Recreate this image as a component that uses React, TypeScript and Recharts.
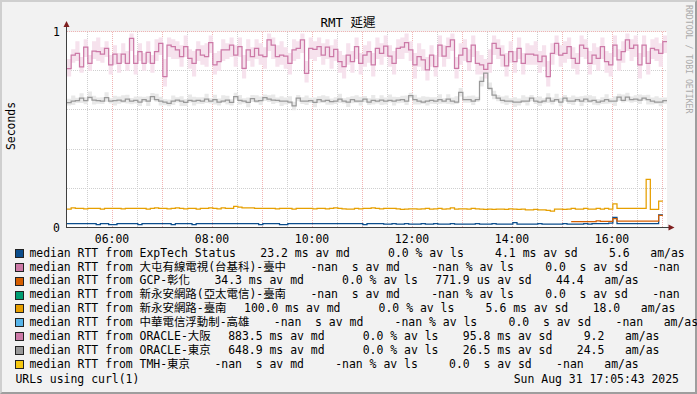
import React from "react";
import { ComposedChart, Line, Area, XAxis, YAxis, CartesianGrid } from "recharts";

const MONO = "'DejaVu Sans Mono', 'Noto Sans CJK TC', monospace";
const FS = 11.45;

// time axis in minutes since midnight (05:06 .. 17:06), 5 minute steps
const START_MIN = 306;
const END_MIN = 1026;
const STEP_MIN = 5;
const TIME_LABEL_TICKS = [360, 480, 600, 720, 840, 960];
const HOUR_TICKS = [360, 420, 480, 540, 600, 660, 720, 780, 840, 900, 960, 1020];
const HALF_HOUR_TICKS = [330, 390, 450, 510, 570, 630, 690, 750, 810, 870, 930, 990];
const Y_LABEL_TICKS = [0, 1];
const Y_MINOR_TICKS = [0.2, 0.4, 0.6, 0.8];
const Y_MAJOR_TICKS = [1];

// ORACLE-大阪 median (seconds)
const OSAKA = [
  0.81, 0.88, 0.889, 0.82, 0.92, 0.838, 0.9, 0.897, 0.885, 0.914, 0.83, 0.885, 0.838, 0.885, 0.838, 0.965,
  0.838, 0.897, 0.838, 0.894, 0.838, 0.897, 0.94, 0.77, 0.93, 0.923, 0.906, 0.872, 0.923, 0.863, 0.838, 0.906,
  0.88, 0.872, 0.943, 0.83, 0.846, 0.906, 0.906, 0.93, 0.88, 0.923, 0.812, 0.906, 0.872, 0.914, 0.88, 0.872,
  0.957, 0.93, 0.872, 0.88, 0.875, 0.838, 0.906, 0.914, 0.957, 0.786, 0.914, 0.909, 0.923, 0.88, 0.92, 0.872,
  0.909, 0.846, 0.821, 0.88, 0.846, 0.923, 0.838, 0.88, 0.897, 0.83, 0.914, 0.889, 0.926, 0.875, 0.838, 0.914,
  0.92, 0.943, 0.906, 0.83, 0.872, 0.855, 0.804, 0.88, 0.821, 0.93, 0.875, 0.923, 0.957, 0.812, 0.88, 0.914,
  0.846, 0.93, 0.838, 0.83, 0.807, 0.838, 0.94, 0.914, 0.88, 0.824, 0.897, 0.846, 0.914, 0.838, 0.885, 0.885,
  0.88, 0.846, 0.875, 0.77, 0.889, 0.94, 0.88, 0.889, 0.923, 0.863, 0.838, 0.93, 0.914, 0.838, 0.88, 0.863,
  0.923, 0.846, 0.83, 0.93, 0.855, 0.897, 0.957, 0.914, 0.93, 0.83, 0.93, 0.838, 0.914, 0.906, 0.889, 0.948,
];
const OSAKA_HI = [
  0.86, 0.91, 0.95, 0.87, 0.96, 0.88, 0.95, 0.97, 0.92, 0.95, 0.88, 0.93, 0.89, 0.94, 0.9, 0.99,
  0.88, 0.94, 0.89, 0.95, 0.88, 0.96, 0.97, 0.86, 0.97, 0.96, 0.95, 0.93, 0.98, 0.91, 0.9, 0.95,
  0.93, 0.94, 0.98, 0.89, 0.9, 0.96, 0.94, 0.97, 0.93, 0.97, 0.88, 0.96, 0.92, 0.96, 0.94, 0.92,
  0.99, 0.97, 0.93, 0.95, 0.92, 0.89, 0.96, 0.95, 0.99, 0.85, 0.97, 0.95, 0.97, 0.94, 0.96, 0.93,
  0.96, 0.9, 0.88, 0.94, 0.9, 0.97, 0.89, 0.93, 0.95, 0.89, 0.97, 0.94, 0.98, 0.93, 0.9, 0.96,
  0.97, 0.99, 0.95, 0.89, 0.94, 0.91, 0.87, 0.93, 0.88, 0.98, 0.93, 0.97, 0.99, 0.87, 0.94, 0.96,
  0.91, 0.98, 0.9, 0.88, 0.86, 0.91, 0.98, 0.96, 0.93, 0.89, 0.95, 0.9, 0.97, 0.89, 0.94, 0.93,
  0.95, 0.9, 0.93, 0.85, 0.94, 0.98, 0.93, 0.95, 0.97, 0.92, 0.89, 0.98, 0.96, 0.9, 0.94, 0.92,
  0.97, 0.9, 0.89, 0.98, 0.91, 0.95, 0.99, 0.96, 0.98, 0.89, 0.98, 0.9, 0.96, 0.97, 0.94, 0.98,
];
const OSAKA_LO = [
  0.77, 0.84, 0.85, 0.79, 0.87, 0.8, 0.86, 0.85, 0.84, 0.87, 0.78, 0.83, 0.79, 0.84, 0.8, 0.9,
  0.78, 0.85, 0.8, 0.84, 0.79, 0.85, 0.88, 0.72, 0.87, 0.86, 0.86, 0.82, 0.87, 0.81, 0.77, 0.85,
  0.83, 0.82, 0.89, 0.78, 0.8, 0.85, 0.86, 0.87, 0.82, 0.87, 0.76, 0.85, 0.82, 0.86, 0.83, 0.81,
  0.9, 0.86, 0.82, 0.83, 0.81, 0.78, 0.85, 0.86, 0.89, 0.74, 0.86, 0.85, 0.87, 0.83, 0.86, 0.81,
  0.85, 0.79, 0.76, 0.83, 0.79, 0.86, 0.78, 0.82, 0.84, 0.77, 0.86, 0.83, 0.87, 0.82, 0.78, 0.86,
  0.86, 0.89, 0.85, 0.76, 0.82, 0.8, 0.75, 0.82, 0.77, 0.87, 0.82, 0.86, 0.9, 0.76, 0.83, 0.85,
  0.8, 0.87, 0.78, 0.78, 0.76, 0.79, 0.88, 0.86, 0.82, 0.77, 0.84, 0.79, 0.86, 0.78, 0.83, 0.83,
  0.83, 0.79, 0.82, 0.72, 0.83, 0.88, 0.82, 0.84, 0.86, 0.81, 0.78, 0.87, 0.86, 0.78, 0.83, 0.8,
  0.86, 0.79, 0.77, 0.87, 0.8, 0.84, 0.9, 0.85, 0.87, 0.76, 0.87, 0.78, 0.86, 0.85, 0.82, 0.89,
];

// ORACLE-東京 median (seconds)
const TOKYO = [
  0.637, 0.645, 0.647, 0.66, 0.647, 0.664, 0.65, 0.647, 0.645, 0.662, 0.645, 0.647, 0.65, 0.645, 0.655, 0.645,
  0.648, 0.64, 0.652, 0.645, 0.668, 0.652, 0.645, 0.64, 0.633, 0.645, 0.65, 0.645, 0.638, 0.648, 0.645, 0.648,
  0.645, 0.655, 0.645, 0.652, 0.64, 0.645, 0.65, 0.638, 0.668, 0.648, 0.645, 0.638, 0.658, 0.645, 0.647, 0.662,
  0.655, 0.65, 0.648, 0.645, 0.645, 0.64, 0.62, 0.66, 0.645, 0.645, 0.647, 0.638, 0.652, 0.645, 0.648, 0.642,
  0.645, 0.655, 0.645, 0.64, 0.652, 0.645, 0.645, 0.655, 0.64, 0.648, 0.645, 0.65, 0.645, 0.648, 0.645, 0.65,
  0.652, 0.645, 0.673, 0.652, 0.645, 0.64, 0.645, 0.648, 0.645, 0.652, 0.645, 0.655, 0.645, 0.64, 0.69, 0.652,
  0.652, 0.645, 0.652, 0.745, 0.787, 0.71, 0.676, 0.66, 0.648, 0.645, 0.645, 0.64, 0.64, 0.645, 0.645, 0.66,
  0.645, 0.64, 0.645, 0.66, 0.645, 0.652, 0.64, 0.66, 0.645, 0.645, 0.652, 0.645, 0.655, 0.645, 0.648, 0.64,
  0.645, 0.652, 0.645, 0.645, 0.665, 0.648, 0.665, 0.652, 0.655, 0.65, 0.66, 0.652, 0.645, 0.64, 0.64, 0.647,
];
const TOKYO_HI = [
  0.657, 0.673, 0.662, 0.685, 0.665, 0.694, 0.672, 0.663, 0.665, 0.69, 0.66, 0.672, 0.668, 0.675, 0.677, 0.661,
  0.668, 0.668, 0.667, 0.67, 0.686, 0.682, 0.667, 0.656, 0.653, 0.673, 0.665, 0.67, 0.656, 0.678, 0.667, 0.664,
  0.665, 0.683, 0.66, 0.677, 0.658, 0.675, 0.672, 0.654, 0.688, 0.676, 0.66, 0.663, 0.676, 0.675, 0.669, 0.678,
  0.675, 0.678, 0.663, 0.67, 0.663, 0.67, 0.642, 0.676, 0.665, 0.673, 0.662, 0.663, 0.67, 0.675, 0.67, 0.658,
  0.665, 0.683, 0.66, 0.665, 0.67, 0.675, 0.667, 0.671, 0.66, 0.676, 0.66, 0.675, 0.663, 0.678, 0.667, 0.666,
  0.672, 0.673, 0.688, 0.677, 0.663, 0.67, 0.667, 0.664, 0.665, 0.68, 0.66, 0.68, 0.663, 0.67, 0.712, 0.668,
  0.672, 0.673, 0.667, 0.77, 0.805, 0.74, 0.698, 0.676, 0.668, 0.673, 0.66, 0.665, 0.658, 0.675, 0.667, 0.676,
  0.665, 0.668, 0.66, 0.685, 0.663, 0.682, 0.662, 0.676, 0.665, 0.673, 0.667, 0.67, 0.673, 0.675, 0.67, 0.656,
  0.665, 0.68, 0.66, 0.67, 0.683, 0.678, 0.687, 0.668, 0.675, 0.678, 0.675, 0.677, 0.663, 0.67, 0.662, 0.663,
];
const TOKYO_LO = [
  0.622, 0.625, 0.635, 0.635, 0.629, 0.654, 0.628, 0.631, 0.63, 0.642, 0.633, 0.622, 0.632, 0.635, 0.633, 0.629,
  0.633, 0.62, 0.64, 0.62, 0.65, 0.642, 0.623, 0.624, 0.618, 0.625, 0.638, 0.62, 0.62, 0.638, 0.623, 0.632,
  0.63, 0.635, 0.633, 0.627, 0.622, 0.635, 0.628, 0.622, 0.653, 0.628, 0.633, 0.613, 0.64, 0.635, 0.625, 0.646,
  0.64, 0.63, 0.636, 0.62, 0.627, 0.63, 0.598, 0.644, 0.63, 0.625, 0.635, 0.613, 0.634, 0.635, 0.626, 0.626,
  0.63, 0.635, 0.633, 0.615, 0.634, 0.635, 0.623, 0.639, 0.625, 0.628, 0.633, 0.625, 0.627, 0.638, 0.623, 0.634,
  0.637, 0.625, 0.661, 0.627, 0.627, 0.63, 0.623, 0.632, 0.63, 0.632, 0.633, 0.63, 0.627, 0.63, 0.668, 0.636,
  0.637, 0.625, 0.64, 0.72, 0.769, 0.7, 0.654, 0.644, 0.633, 0.625, 0.633, 0.615, 0.622, 0.635, 0.623, 0.644,
  0.63, 0.62, 0.633, 0.635, 0.627, 0.642, 0.618, 0.644, 0.63, 0.625, 0.64, 0.62, 0.637, 0.635, 0.626, 0.624,
  0.63, 0.632, 0.633, 0.62, 0.647, 0.638, 0.643, 0.636, 0.64, 0.63, 0.648, 0.627, 0.627, 0.63, 0.618, 0.631,
];

// 新永安網路-臺南 median (seconds)
const YONGAN = [
  0.094, 0.1, 0.097, 0.097, 0.095, 0.097, 0.097, 0.097, 0.094, 0.097, 0.097, 0.097, 0.097, 0.095, 0.097, 0.097,
  0.097, 0.097, 0.097, 0.094, 0.097, 0.1, 0.097, 0.097, 0.095, 0.097, 0.1, 0.097, 0.095, 0.097, 0.097, 0.094,
  0.097, 0.097, 0.1, 0.097, 0.095, 0.1, 0.097, 0.097, 0.108, 0.104, 0.1, 0.1, 0.1, 0.097, 0.097, 0.097,
  0.097, 0.097, 0.095, 0.097, 0.097, 0.097, 0.094, 0.097, 0.097, 0.097, 0.097, 0.095, 0.097, 0.097, 0.095, 0.097,
  0.1, 0.097, 0.095, 0.094, 0.094, 0.097, 0.095, 0.097, 0.097, 0.1, 0.097, 0.095, 0.097, 0.097, 0.097, 0.095,
  0.092, 0.094, 0.095, 0.095, 0.094, 0.095, 0.097, 0.094, 0.095, 0.097, 0.094, 0.095, 0.1, 0.094, 0.095, 0.095,
  0.094, 0.097, 0.095, 0.094, 0.092, 0.094, 0.092, 0.094, 0.094, 0.092, 0.095, 0.094, 0.092, 0.094, 0.09, 0.09,
  0.092, 0.09, 0.09, 0.088, 0.084, 0.094, 0.094, 0.092, 0.094, 0.097, 0.094, 0.094, 0.097, 0.094, 0.094, 0.097,
  0.094, 0.097, 0.094, 0.12, 0.098, 0.098, 0.098, 0.098, 0.098, 0.098, 0.098, 0.245, 0.092, 0.092, 0.135,
];

// ExpTech Status median (seconds)
const EXPTECH = [
  0.02, 0.02, 0.02, 0.02, 0.02, 0.02, 0.02, 0.015, 0.02, 0.02, 0.015, 0.015, 0.02, 0.02, 0.02, 0.02,
  0.02, 0.015, 0.02, 0.02, 0.02, 0.02, 0.02, 0.02, 0.02, 0.015, 0.02, 0.02, 0.02, 0.02, 0.015, 0.02,
  0.02, 0.02, 0.02, 0.02, 0.02, 0.02, 0.02, 0.02, 0.02, 0.02, 0.02, 0.02, 0.02, 0.02, 0.015, 0.02,
  0.02, 0.02, 0.02, 0.015, 0.015, 0.02, 0.02, 0.02, 0.02, 0.02, 0.02, 0.02, 0.02, 0.02, 0.02, 0.02,
  0.02, 0.02, 0.02, 0.02, 0.02, 0.02, 0.02, 0.015, 0.02, 0.02, 0.02, 0.02, 0.017, 0.017, 0.02, 0.017,
  0.017, 0.02, 0.017, 0.017, 0.017, 0.02, 0.017, 0.017, 0.02, 0.017, 0.017, 0.017, 0.02, 0.017, 0.017, 0.017,
  0.017, 0.017, 0.02, 0.017, 0.017, 0.017, 0.02, 0.017, 0.017, 0.017, 0.017, 0.025, 0.017, 0.017, 0.017, 0.017,
  0.017, 0.02, 0.017, 0.017, 0.017, 0.017, 0.017, 0.02, 0.017, 0.017, 0.017, 0.017, 0.02, 0.017, 0.02, 0.02,
  0.02, 0.02, 0.022, 0.052, 0.02, 0.02, 0.02, 0.02, 0.02, 0.02, 0.02, 0.02, 0.02, 0.02, 0.064,
];

// GCP-彰化 median (seconds), starting at step 121 (≈15:11)
const GCP_FIRST_STEP = 121;
const GCP = [
  0.03, 0.03, 0.03, 0.03, 0.03, 0.03, 0.034, 0.031, 0.031, 0.031, 0.045, 0.032, 0.032, 0.032, 0.033, 0.032,
  0.033, 0.032, 0.032, 0.033, 0.032, 0.062,
];

const COLORS = {
  exptech: "#0b4d8c",
  tunhsiang: "#cc79a7",
  gcp: "#d55e00",
  yonganApt: "#009e73",
  yongan: "#e69f00",
  cht: "#56b4e9",
  osaka: "#cc79a7",
  tokyo: "#999999",
  tmh: "#f5c710",
};

const NAN_MD = " -nan  s av md ";
const NAN_LS = " -nan % av ls";
const NAN_SD = "  0.0  s av sd";
const NAN_AM = " -nan   am/as";
const NAN_AM_EDGE = " -nan";

const LEGEND = [
  { color: COLORS.exptech, label: "median RTT from ExpTech Status", md: " 23.2 ms av md ", ls: "  0.0 % av ls", sd: "  4.1 ms av sd", am: "  5.6   am/as" },
  { color: COLORS.tunhsiang, label: "median RTT from 大屯有線電視(台基科)-臺中", md: NAN_MD, ls: NAN_LS, sd: NAN_SD, am: NAN_AM_EDGE },
  { color: COLORS.gcp, label: "median RTT from GCP-彰化", md: " 34.3 ms av md ", ls: "  0.0 % av ls", sd: "771.9 us av sd", am: " 44.4   am/as" },
  { color: COLORS.yonganApt, label: "median RTT from 新永安網路(亞太電信)-臺南", md: NAN_MD, ls: NAN_LS, sd: NAN_SD, am: NAN_AM_EDGE },
  { color: COLORS.yongan, label: "median RTT from 新永安網路-臺南", md: "100.0 ms av md ", ls: "  0.0 % av ls", sd: "  5.6 ms av sd", am: " 18.0   am/as" },
  { color: COLORS.cht, label: "median RTT from 中華電信浮動制-高雄", md: NAN_MD, ls: NAN_LS, sd: NAN_SD, am: NAN_AM },
  { color: COLORS.osaka, label: "median RTT from ORACLE-大阪", md: "883.5 ms av md ", ls: "  0.0 % av ls", sd: " 95.8 ms av sd", am: "  9.2   am/as" },
  { color: COLORS.tokyo, label: "median RTT from ORACLE-東京", md: "648.9 ms av md ", ls: "  0.0 % av ls", sd: " 26.5 ms av sd", am: " 24.5   am/as" },
  { color: COLORS.tmh, label: "median RTT from TMH-東京", md: NAN_MD, ls: NAN_LS, sd: NAN_SD, am: NAN_AM },
];

const TITLE = "RMT 延遲";
const Y_LABEL = "Seconds";
const WATERMARK = "RRDTOOL / TOBI OETIKER";
const FOOT_LEFT = "URLs using curl(1)";
const FOOT_RIGHT = "Sun Aug 31 17:05:43 2025";

const N_STEPS = 144;

function valueAt(series: number[], i: number, first = 0): number | null {
  const j = i - first;
  if (j < 0) return null;
  if (j < series.length) return series[j];
  if (j === series.length) return series[series.length - 1];
  return null;
}
function rangeAt(lo: number[], hi: number[], i: number): [number, number] | null {
  const a = valueAt(lo, i);
  const b = valueAt(hi, i);
  return a == null || b == null ? null : [a, b];
}

const DATA = Array.from({ length: N_STEPS + 1 }, (_, i) => ({
  t: START_MIN + i * STEP_MIN,
  osaka: valueAt(OSAKA, i),
  osakaSmoke: rangeAt(OSAKA_LO, OSAKA_HI, i),
  tokyo: valueAt(TOKYO, i),
  tokyoSmoke: rangeAt(TOKYO_LO, TOKYO_HI, i),
  yongan: valueAt(YONGAN, i),
  exptech: valueAt(EXPTECH, i),
  gcp: valueAt(GCP, i, GCP_FIRST_STEP),
}));

const W = 697;
const H = 394;
const PLOT_L = 67;
const PLOT_R = 667;
const PLOT_T = 31.5;
const PLOT_B = 227.5;
const GAP = 17.5;
const ROW0_BASE = 257.6;
const ROW_H = 13.85;

const fmtTime = (v: number) => {
  const h = Math.floor(v / 60);
  const m = v % 60;
  return `${String(h).padStart(2, "0")}:${String(m).padStart(2, "0")}`;
};

const tickStyle = { fontFamily: MONO, fontSize: FS, fill: "#000" };
const LINE_W = 1.25;

export default function App() {
  return (
    <div style={{ position: "relative", width: W, height: H, background: "#f2f2f2", overflow: "hidden", fontFamily: MONO }}>
      <style>{`body{margin:0}`}</style>
      <div style={{ position: "absolute", left: 0, top: 0, width: W, height: H, boxSizing: "border-box", borderTop: "2px solid #cfcfcf", borderLeft: "2px solid #cfcfcf", borderRight: "2px solid #9e9e9e", borderBottom: "2px solid #9e9e9e" }} />
      <div style={{ position: "absolute", left: PLOT_L, top: PLOT_T, width: PLOT_R - PLOT_L, height: PLOT_B - PLOT_T, background: "#fff" }} />
      <div style={{ position: "absolute", left: 0, top: 0 }}>
        <ComposedChart width={W} height={H} data={DATA} margin={{ top: PLOT_T, right: W - PLOT_R, bottom: H - PLOT_B - 30, left: 0 }}>
          <CartesianGrid verticalValues={HALF_HOUR_TICKS} horizontalValues={Y_MINOR_TICKS} stroke="#cfcfcf" strokeDasharray="1 1" shapeRendering="crispEdges" />
          <CartesianGrid verticalValues={HOUR_TICKS} horizontalValues={Y_MAJOR_TICKS} stroke="#f1b3b3" strokeDasharray="1 1" shapeRendering="crispEdges" />
          <XAxis dataKey="t" type="number" domain={[START_MIN, END_MIN]} ticks={TIME_LABEL_TICKS} interval={0} tickFormatter={fmtTime} height={30} axisLine={false} tickLine={false} tickSize={0} tickMargin={7} tick={tickStyle} />
          <YAxis type="number" domain={[0, 1]} ticks={Y_LABEL_TICKS} interval={0} width={PLOT_L} axisLine={false} tickLine={false} tickSize={0} tickMargin={7} tick={tickStyle} />
          <Area dataKey="tokyoSmoke" type="stepAfter" stroke="none" fill="#e9e9e9" fillOpacity={1} isAnimationActive={false} connectNulls={false} />
          <Area dataKey="osakaSmoke" type="stepAfter" stroke="none" fill="#f6e2ed" fillOpacity={1} isAnimationActive={false} connectNulls={false} />
          <Line dataKey="exptech" type="stepAfter" stroke={COLORS.exptech} strokeWidth={LINE_W} dot={false} isAnimationActive={false} />
          <Line dataKey="gcp" type="stepAfter" stroke={COLORS.gcp} strokeWidth={LINE_W} dot={false} isAnimationActive={false} />
          <Line dataKey="yongan" type="stepAfter" stroke={COLORS.yongan} strokeWidth={LINE_W} dot={false} isAnimationActive={false} />
          <Line dataKey="osaka" type="stepAfter" stroke={COLORS.osaka} strokeWidth={LINE_W} dot={false} isAnimationActive={false} />
          <Line dataKey="tokyo" type="stepAfter" stroke={COLORS.tokyo} strokeWidth={LINE_W} dot={false} isAnimationActive={false} />
        </ComposedChart>
      </div>
      <svg width={W} height={H} style={{ position: "absolute", left: 0, top: 0, pointerEvents: "none" }}>
        <text x={348} y={26.5} textAnchor="middle" fontFamily={MONO} fontSize={12.5} fill="#000">{TITLE}</text>
        <text x={15} y={126} textAnchor="middle" fontFamily={MONO} fontSize={FS} fill="#000" transform="rotate(-90 15 126)">{Y_LABEL}</text>
        <text x={685.5} y={5} textAnchor="start" fontFamily={MONO} fontSize={8.2} fill="#aaaaaa" transform="rotate(90 685.5 5)">{WATERMARK}</text>
        <line x1={66.5} y1={26} x2={66.5} y2={228} stroke="#404040" strokeWidth={1} />
        <line x1={66} y1={227.5} x2={669} y2={227.5} stroke="#404040" strokeWidth={1} />
        <polygon points="66.5,21 63.5,27 69.5,27" fill="#7f1f1f" />
        <polygon points="674.5,227.5 668.5,224.5 668.5,230.5" fill="#7f1f1f" />
      </svg>
      {LEGEND.map((r, k) => {
        const base = ROW0_BASE + k * ROW_H;
        return (
          <React.Fragment key={k}>
            <div style={{ position: "absolute", left: 15, top: base - 8.6, width: 9, height: 9, boxSizing: "border-box", border: "1px solid #222", background: r.color }} />
            <div style={{ position: "absolute", left: 29.4, top: base - 10.9, whiteSpace: "pre", fontFamily: MONO, fontSize: FS, lineHeight: `${ROW_H}px`, color: "#000" }}>
              <span>{r.label}</span>
              <span style={{ marginLeft: GAP }}>{r.md}</span>
              <span style={{ marginLeft: GAP }}>{r.ls}</span>
              <span style={{ marginLeft: GAP }}>{r.sd}</span>
              <span style={{ marginLeft: GAP }}>{r.am}</span>
            </div>
          </React.Fragment>
        );
      })}
      <div style={{ position: "absolute", left: 15.4, top: 383.4 - 10.9, whiteSpace: "pre", fontFamily: MONO, fontSize: FS, lineHeight: `${ROW_H}px`, color: "#000" }}>{FOOT_LEFT}</div>
      <div style={{ position: "absolute", right: W - 679, top: 383.4 - 10.9, whiteSpace: "pre", fontFamily: MONO, fontSize: FS, lineHeight: `${ROW_H}px`, color: "#000" }}>{FOOT_RIGHT}</div>
    </div>
  );
}
